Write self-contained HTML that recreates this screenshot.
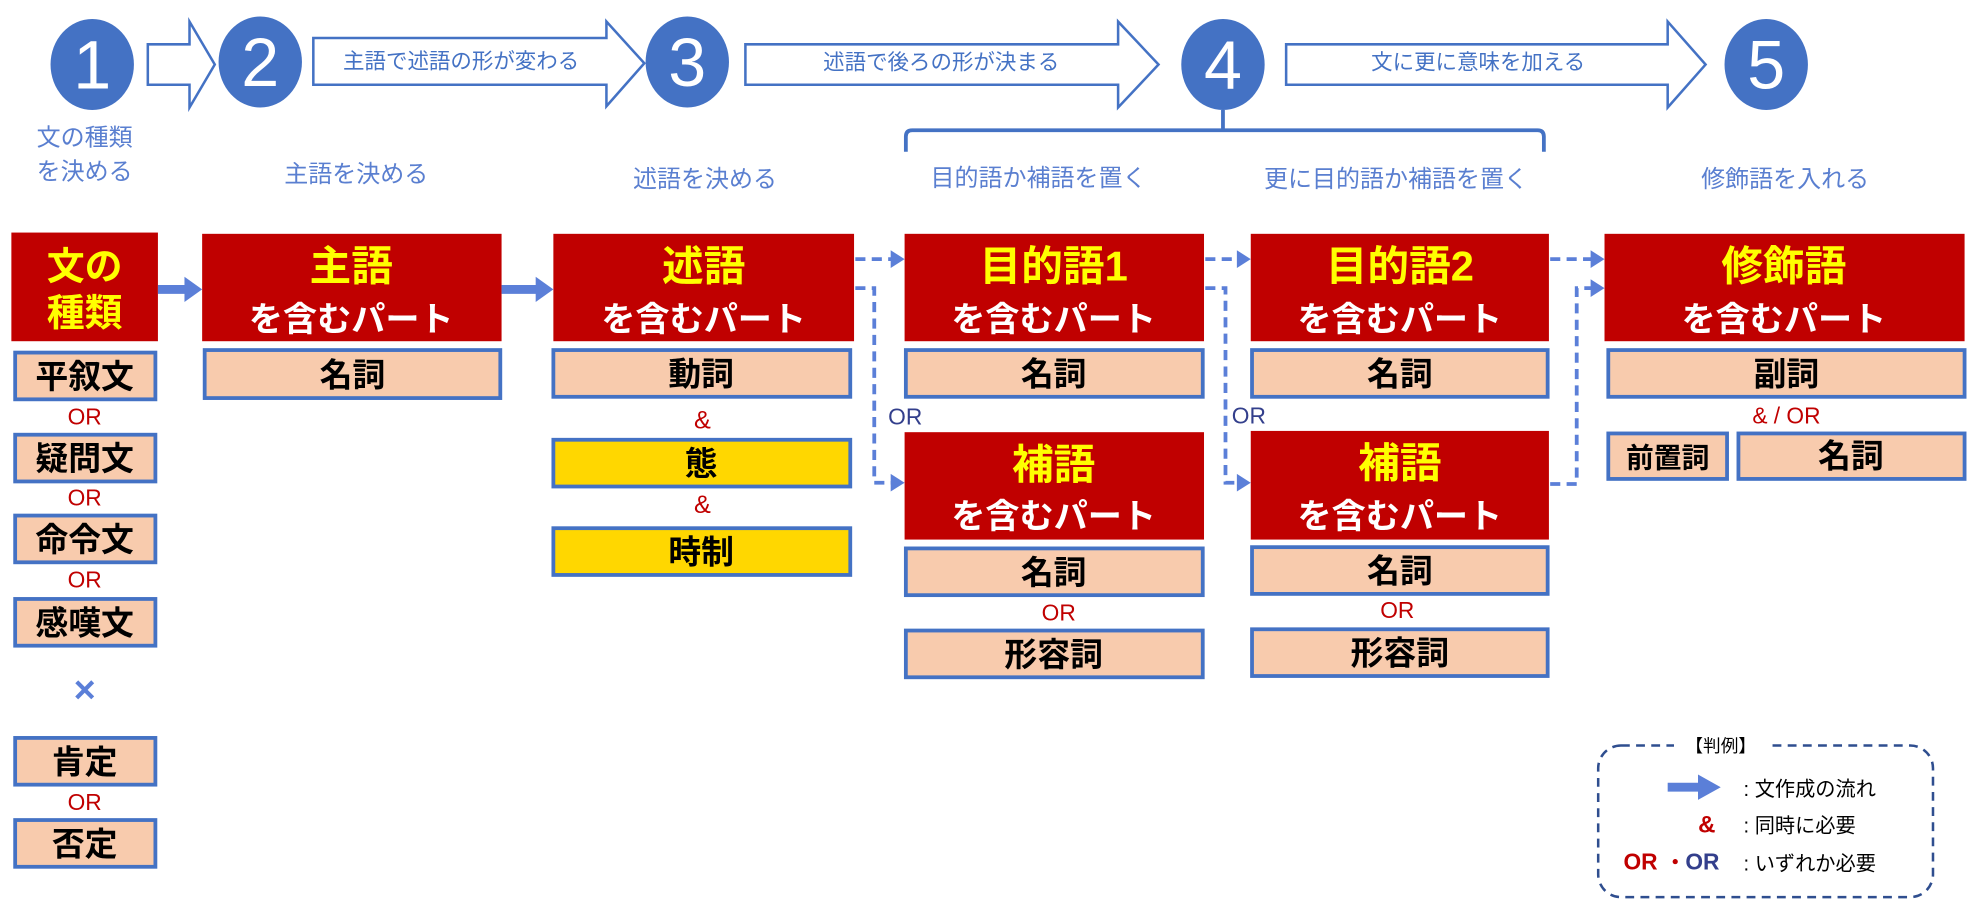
<!DOCTYPE html>
<html><head><meta charset="utf-8"><style>
html,body{margin:0;padding:0;background:#fff;}
svg{display:block;}
text{font-family:"Liberation Sans","Noto Sans CJK JP",sans-serif;}
</style></head><body>
<svg width="1981" height="901" viewBox="0 0 1568 713" xmlns="http://www.w3.org/2000/svg">
<g fill="#fff" stroke="#4472C4" stroke-width="2">
<path d="M117,35 H150 V17 L170,51 L150,85 V67 H117Z"/>
<path d="M248,30 H480 V17 L510,50 L480,84 V67 H248Z"/>
<path d="M590,35 H885 V17 L917,51 L885,85 V67 H590Z"/>
<path d="M1018,35 H1320 V17 L1350,51 L1320,85 V67 H1018Z"/>
</g>
<g fill="#4472C4" font-size="17" text-anchor="middle">
<text x="365" y="54">主語で述語の形が変わる</text>
<text x="745" y="55">述語で後ろの形が決まる</text>
<text x="1170" y="55">文に更に意味を加える</text>
</g>
<g fill="#4472C4">
<ellipse cx="73" cy="51" rx="33" ry="36"/>
<ellipse cx="206" cy="49" rx="33" ry="36"/>
<ellipse cx="544" cy="49" rx="33" ry="36"/>
<ellipse cx="968" cy="51" rx="33" ry="36"/>
<ellipse cx="1398" cy="51" rx="33" ry="36"/>
</g>
<g fill="#fff" font-size="54" text-anchor="middle">
<text x="73" y="70">1</text><text x="206" y="68">2</text><text x="544" y="68">3</text><text x="968" y="70">4</text><text x="1398" y="70">5</text>
</g>
<path d="M717,120 V108 Q717,103 722,103 H1217 Q1222,103 1222,108 V120 M968,87 V103" fill="none" stroke="#4472C4" stroke-width="3"/>
<g fill="#5A7FD0" font-size="19" text-anchor="middle">
<text x="67" y="115">文の種類</text><text x="67" y="142">を決める</text>
<text x="282" y="144">主語を決める</text>
<text x="558" y="148">述語を決める</text>
<text x="822" y="147">目的語か補語を置く</text>
<text x="1105" y="148">更に目的語か補語を置く</text>
<text x="1413" y="148">修飾語を入れる</text>
</g>
<g fill="#C00000">
<rect x="9" y="184" width="116" height="86"/>
<rect x="160" y="185" width="237" height="85"/>
<rect x="438" y="185" width="238" height="85"/>
<rect x="716" y="185" width="237" height="85"/>
<rect x="990" y="185" width="236" height="85"/>
<rect x="1270" y="185" width="285" height="85"/>
<rect x="716" y="342" width="237" height="85"/>
<rect x="990" y="341" width="236" height="86"/>
</g>
<g font-weight="bold" text-anchor="middle">
<g fill="#FFFF00" font-size="30"><text x="67" y="221">文の</text><text x="67" y="258">種類</text></g>
<g fill="#FFFF00" font-size="33">
<text x="278" y="222">主語</text><text x="557" y="222">述語</text><text x="834" y="222">目的語1</text><text x="1108" y="222">目的語2</text><text x="1412" y="222">修飾語</text>
<text x="834" y="379">補語</text><text x="1108" y="378">補語</text>
</g>
<g fill="#fff" font-size="27">
<text x="278" y="262">を含むパート</text><text x="557" y="262">を含むパート</text><text x="834" y="262">を含むパート</text><text x="1108" y="262">を含むパート</text><text x="1412" y="262">を含むパート</text>
<text x="834" y="418">を含むパート</text><text x="1108" y="418">を含むパート</text>
</g>
</g>
<g fill="#F8CBAD" stroke="#4472C4" stroke-width="3">
<rect x="12" y="279" width="111" height="37"/>
<rect x="12" y="344" width="111" height="37"/>
<rect x="12" y="408" width="111" height="37"/>
<rect x="12" y="474" width="111" height="37"/>
<rect x="12" y="584" width="111" height="37"/>
<rect x="12" y="649" width="111" height="37"/>
<rect x="162" y="277" width="234" height="38"/>
<rect x="438" y="277" width="235" height="37"/>
<rect x="717" y="277" width="235" height="37"/>
<rect x="717" y="434" width="235" height="37"/>
<rect x="717" y="499" width="235" height="37"/>
<rect x="991" y="277" width="234" height="37"/>
<rect x="991" y="433" width="234" height="37"/>
<rect x="991" y="498" width="234" height="37"/>
<rect x="1273" y="277" width="282" height="37"/>
<rect x="1273" y="343" width="94" height="36"/>
<rect x="1376" y="343" width="179" height="36"/>
</g>
<g fill="#FFD700" stroke="#4472C4" stroke-width="3">
<rect x="438" y="348" width="235" height="37"/>
<rect x="438" y="418" width="235" height="37"/>
</g>
<g fill="#000" font-weight="bold" font-size="26" text-anchor="middle">
<text x="67" y="307">平叙文</text><text x="67" y="372">疑問文</text><text x="67" y="436">命令文</text><text x="67" y="502">感嘆文</text><text x="67" y="612">肯定</text><text x="67" y="677">否定</text>
<text x="279" y="306">名詞</text><text x="555" y="305">動詞</text><text x="555" y="376">態</text><text x="555" y="446">時制</text>
<text x="834" y="305">名詞</text><text x="834" y="462">名詞</text><text x="834" y="527">形容詞</text>
<text x="1108" y="305">名詞</text><text x="1108" y="461">名詞</text><text x="1108" y="526">形容詞</text>
<text x="1414" y="305">副詞</text><text x="1320" y="370" font-size="22">前置詞</text><text x="1465" y="370">名詞</text>
</g>
<g fill="#C00000" font-size="18" text-anchor="middle">
<text x="67" y="336">OR</text><text x="67" y="400">OR</text><text x="67" y="465">OR</text><text x="67" y="641">OR</text>
<text x="556" y="339" font-size="20">&amp;</text><text x="556" y="406" font-size="20">&amp;</text>
<text x="838" y="491">OR</text><text x="1106" y="489">OR</text>
<text x="1414" y="335">&amp; / OR</text>
</g>
<text x="67" y="556" fill="#5B7FD8" font-size="30" font-weight="bold" text-anchor="middle">×</text>
<g fill="#333F8C" font-size="18"><text x="703" y="336">OR</text><text x="975" y="335">OR</text></g>
<g stroke="#5B7FD8" stroke-width="7" fill="none">
<line x1="125" y1="229" x2="148" y2="229"/><line x1="397" y1="229" x2="426" y2="229"/>
</g>
<g fill="#5B7FD8"><path d="M146,219 L160,229 L146,239Z"/><path d="M424,219 L438,229 L424,239Z"/></g>
<g stroke="#5B7FD8" stroke-width="3" fill="none" stroke-dasharray="8,5">
<path d="M677,205 H706"/><path d="M677,228 H692 V382 H706"/>
<path d="M954,205 H980"/><path d="M954,228 H970 V382 H980"/>
<path d="M1227,205 H1260"/><path d="M1227,383 H1248 V228 H1260"/>
</g>
<g fill="#5B7FD8">
<path d="M705,198 L716,205 L705,212Z"/><path d="M705,375 L716,382 L705,389Z"/>
<path d="M979,198 L990,205 L979,212Z"/><path d="M979,375 L990,382 L979,389Z"/>
<path d="M1259,198 L1270,205 L1259,212Z"/><path d="M1259,221 L1270,228 L1259,235Z"/>
</g>
<rect x="1265" y="590" width="265" height="120" rx="18" fill="none" stroke="#2F4E8F" stroke-width="2" stroke-dasharray="7,5"/>
<rect x="1325" y="578" width="75" height="22" fill="#fff"/>
<text x="1362" y="595" font-size="14" text-anchor="middle" fill="#000">【判例】</text>
<line x1="1320" y1="623" x2="1346" y2="623" stroke="#5B7FD8" stroke-width="7"/>
<path d="M1344,613 L1362,623 L1344,633Z" fill="#5B7FD8"/>
<g font-size="16" fill="#000"><text x="1380" y="630">: 文作成の流れ</text><text x="1380" y="659">: 同時に必要</text><text x="1380" y="689">: いずれか必要</text></g>
<text x="1351" y="659" fill="#C00000" font-size="19" font-weight="bold" text-anchor="middle">&amp;</text>
<text x="1285" y="688" fill="#C00000" font-size="18" font-weight="bold">OR</text>
<text x="1318" y="688" fill="#C00000" font-size="16" font-weight="bold">・</text>
<text x="1334" y="688" fill="#333F8C" font-size="18" font-weight="bold">OR</text>
</svg>
</body></html>
